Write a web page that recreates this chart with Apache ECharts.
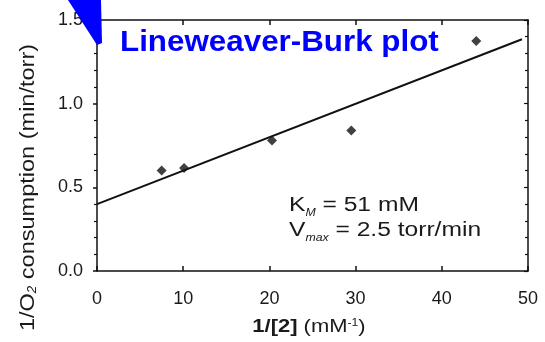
<!DOCTYPE html>
<html><head><meta charset="utf-8">
<script src="https://cdn.jsdelivr.net/npm/echarts@6/dist/echarts.min.js"></script>
<style>html,body{margin:0;padding:0;background:#fff}#c{width:545px;height:342px}</style>
</head><body><div id="c"></div>
<script>
const pointsX = [7.5, 10.1, 20.3, 29.5, 44.0];
const pointsY = [0.60, 0.615, 0.78, 0.84, 1.375];
const fitX = [0, 49.3];
const fitY = [0.40, 1.385];
const xTicks = [0, 10, 20, 30, 40, 50];
const yTicks = [0.0, 0.5, 1.0, 1.5];
const titleText = 'Lineweaver-Burk plot';
const font = 'Liberation Sans, Arial, sans-serif';

const chart = echarts.init(document.getElementById('c'), null, {renderer: 'canvas'});
const axisLine = {show: true, onZero: false, lineStyle: {color: '#111', width: 1.5}};
chart.setOption({
  animation: false,
  grid: {left: 97, right: 17, top: 20, bottom: 71, containLabel: false},
  xAxis: [{
    type: 'value', min: 0, max: 50, interval: 10, position: 'bottom',
    axisLine, splitLine: {show: false},
    axisTick: {show: true, inside: true, length: 5, lineStyle: {color: '#111', width: 1.5}},
    axisLabel: {color: '#1a1a1a', fontSize: 18, fontFamily: font, margin: 19,
      formatter: v => xTicks.includes(v) ? String(v) : ''}
  }, {
    type: 'value', min: 0, max: 50, interval: 10, position: 'top',
    axisLine, splitLine: {show: false}, axisLabel: {show: false},
    axisTick: {show: true, inside: true, length: 5, lineStyle: {color: '#111', width: 1.5}}
  }],
  yAxis: [{
    type: 'value', min: 0, max: 1.5, interval: 0.5, position: 'left',
    axisLine, splitLine: {show: false},
    axisTick: {show: true, inside: false, length: 4, lineStyle: {color: '#111', width: 1.5}},
    minorTick: {show: true, splitNumber: 5, length: 3, lineStyle: {color: '#111', width: 1.2}},
    axisLabel: {color: '#1a1a1a', fontSize: 18, fontFamily: font, margin: 14,
      formatter: v => v.toFixed(1)}
  }, {
    type: 'value', min: 0, max: 1.5, interval: 0.5, position: 'right',
    axisLine, splitLine: {show: false}, axisLabel: {show: false},
    axisTick: {show: true, inside: true, length: 4, lineStyle: {color: '#111', width: 1.2}},
    minorTick: {show: true, splitNumber: 5, length: 3, lineStyle: {color: '#111', width: 1.2}}
  }],
  series: [{
    type: 'line', data: fitX.map((x, i) => [x, fitY[i]]), symbol: 'none',
    lineStyle: {color: '#111', width: 2}, z: 2
  }, {
    type: 'scatter', data: pointsX.map((x, i) => [x, pointsY[i]]),
    symbol: 'diamond', symbolSize: 10, itemStyle: {color: '#111'}, z: 3
  }],
  graphic: [
    {type: 'polygon', shape: {points: [[68, 0], [101, 0], [102, 43], [97, 45]]},
      style: {fill: '#0000ff'}, z: 10},
    {type: 'text', x: 120, y: 43, scaleX: 1.045, z: 10,
      style: {text: titleText, fill: '#0000ff', verticalAlign: 'middle',
        font: 'bold 30px Liberation Sans, Arial, sans-serif'}},
    {type: 'text', x: 28, y: 187.5, rotation: Math.PI / 2, scaleX: 1.12, z: 10,
      style: {text: '{a|1/O}{s|2}{a| consumption (min/torr)}', align: 'center', verticalAlign: 'middle',
        rich: {
          a: {fontSize: 21, fontFamily: font, fill: '#1a1a1a'},
          s: {fontSize: 12, fontFamily: font, fill: '#1a1a1a', fontStyle: 'italic', verticalAlign: 'bottom', padding: [9,0,0,0]}
        }}},
    {type: 'text', x: 309, y: 327, scaleX: 1.22, z: 10,
      style: {text: '{b|1/[2]}{a| (mM}{s|-1}{a|)}', align: 'center', verticalAlign: 'middle',
        rich: {
          a: {fontSize: 18, fontFamily: font, fill: '#1a1a1a'},
          b: {fontSize: 18, fontFamily: font, fill: '#1a1a1a', fontWeight: 'bold'},
          s: {fontSize: 10, fontFamily: font, fill: '#1a1a1a', verticalAlign: 'top', padding: [0,0,8,0]}
        }}},
    {type: 'text', x: 289, y: 193, scaleX: 1.23, z: 10,
      style: {text: '{a|K}{s|M}{a| = 51 mM}\n{a|V}{s|max}{a| = 2.5 torr/min}', verticalAlign: 'top',
        rich: {
          a: {fontSize: 20, fontFamily: font, fill: '#1a1a1a', lineHeight: 25},
          s: {fontSize: 10, fontFamily: font, fill: '#1a1a1a', fontStyle: 'italic', lineHeight: 25, verticalAlign: 'bottom', padding: [11,0,0,0]}
        }}}
  ]
});
</script></body></html>
